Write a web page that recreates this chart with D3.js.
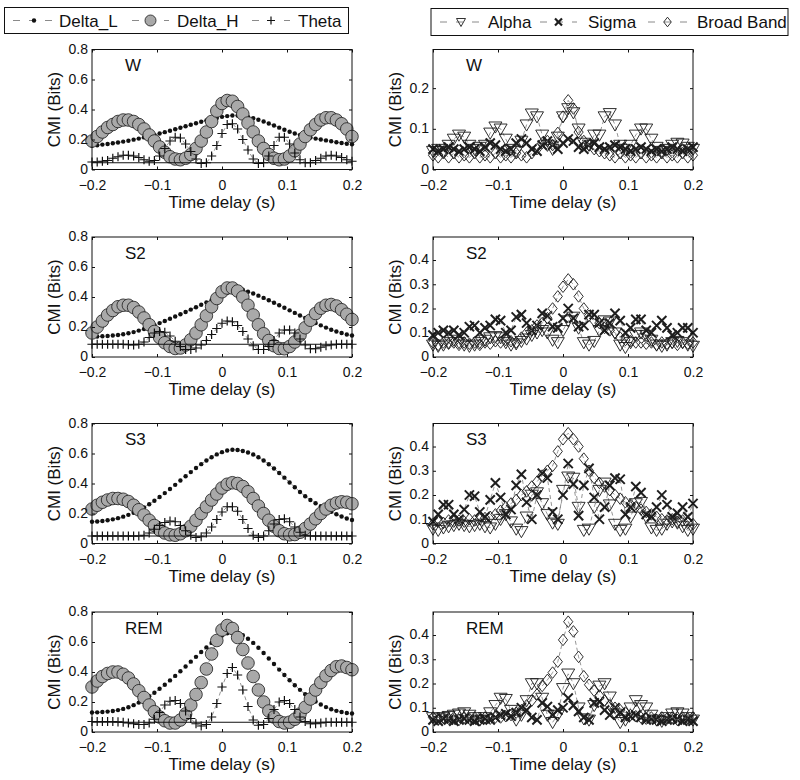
<!DOCTYPE html>
<html><head><meta charset="utf-8">
<script src="https://cdn.jsdelivr.net/npm/d3@7"></script>
<style>body{margin:0;background:#fff} text{font-family:"Liberation Sans",Arial,Helvetica,sans-serif;fill:#111}</style>
</head><body><svg id="c" width="800" height="780"></svg>
<script>
// ---------- DATA ----------
const lags = [-0.2,-0.192,-0.184,-0.176,-0.168,-0.16,-0.152,-0.144,-0.136,-0.128,-0.12,-0.112,-0.104,-0.096,-0.088,-0.08,-0.072,-0.064,-0.056,-0.048,-0.04,-0.032,-0.024,-0.016,-0.008,0,0.008,0.016,0.024,0.032,0.04,0.048,0.056,0.064,0.072,0.08,0.088,0.096,0.104,0.112,0.12,0.128,0.136,0.144,0.152,0.16,0.168,0.176,0.184,0.192,0.2];
const stages = ["W","S2","S3","REM"];
const leftNames = ["Delta_L","Delta_H","Theta"];
const rightNames = ["Alpha","Sigma","Broad Band"];
const xTicks = [-0.2,-0.1,0,0.1,0.2];
const leftYTicks = [0,0.2,0.4,0.6,0.8];
const rightYTicks = [[0,0.1,0.2],[0,0.1,0.2,0.3,0.4],[0,0.1,0.2,0.3,0.4],[0,0.1,0.2,0.3,0.4]];
const leftYMax = [0.8,0.8,0.8,0.8];
const rightYMax = [0.295,0.495,0.495,0.495];
const thresholds = [0.045,0.085,0.05,0.065];

const wDeltaL = [0.158,0.162,0.166,0.17,0.175,0.18,0.186,0.192,0.199,0.206,0.214,0.222,0.231,0.24,0.249,0.258,0.268,0.278,0.288,0.298,0.308,0.318,0.327,0.336,0.344,0.351,0.356,0.36,0.36,0.357,0.35,0.342,0.332,0.32,0.307,0.293,0.279,0.265,0.252,0.24,0.23,0.221,0.213,0.206,0.2,0.194,0.188,0.182,0.177,0.172,0.168];
const wDeltaH = [0.19,0.22,0.25,0.28,0.30,0.32,0.33,0.33,0.32,0.30,0.27,0.23,0.19,0.15,0.115,0.085,0.07,0.065,0.075,0.1,0.14,0.19,0.25,0.32,0.39,0.44,0.46,0.455,0.42,0.37,0.31,0.25,0.19,0.14,0.1,0.075,0.065,0.07,0.09,0.125,0.17,0.22,0.265,0.30,0.33,0.345,0.345,0.33,0.305,0.27,0.22];
const wTheta = [0.05,0.05,0.055,0.06,0.075,0.085,0.095,0.095,0.09,0.08,0.065,0.055,0.06,0.09,0.14,0.19,0.215,0.21,0.17,0.12,0.07,0.04,0.045,0.09,0.16,0.24,0.3,0.305,0.27,0.2,0.13,0.07,0.04,0.045,0.09,0.16,0.215,0.215,0.17,0.11,0.065,0.045,0.045,0.06,0.075,0.09,0.095,0.09,0.08,0.065,0.055];
const wAlpha = [0.045,0.05,0.045,0.06,0.075,0.085,0.08,0.06,0.05,0.055,0.06,0.09,0.105,0.1,0.075,0.05,0.045,0.07,0.11,0.137,0.13,0.085,0.06,0.05,0.08,0.13,0.15,0.14,0.1,0.065,0.06,0.085,0.085,0.13,0.138,0.11,0.06,0.05,0.06,0.085,0.1,0.1,0.075,0.055,0.045,0.05,0.06,0.065,0.063,0.055,0.05];
const wSigma = [0.05,0.045,0.05,0.055,0.05,0.045,0.05,0.055,0.05,0.045,0.055,0.065,0.06,0.05,0.045,0.05,0.065,0.075,0.065,0.05,0.045,0.06,0.07,0.06,0.05,0.065,0.075,0.07,0.055,0.05,0.06,0.065,0.055,0.05,0.055,0.06,0.055,0.05,0.045,0.05,0.055,0.05,0.045,0.05,0.045,0.05,0.055,0.05,0.045,0.05,0.055];
const wBroad = [0.035,0.03,0.04,0.03,0.04,0.03,0.035,0.03,0.04,0.03,0.035,0.03,0.04,0.03,0.035,0.03,0.04,0.035,0.03,0.04,0.05,0.065,0.07,0.06,0.09,0.13,0.17,0.15,0.092,0.07,0.06,0.05,0.045,0.04,0.035,0.03,0.04,0.03,0.035,0.03,0.04,0.03,0.035,0.03,0.04,0.03,0.035,0.03,0.04,0.03,0.035];

const s2DeltaL = [0.135,0.136,0.138,0.14,0.143,0.147,0.152,0.158,0.166,0.176,0.187,0.199,0.212,0.226,0.24,0.255,0.27,0.285,0.3,0.316,0.332,0.348,0.364,0.38,0.396,0.412,0.428,0.448,0.452,0.448,0.435,0.423,0.409,0.394,0.378,0.362,0.345,0.328,0.311,0.294,0.277,0.26,0.243,0.227,0.211,0.196,0.182,0.17,0.16,0.15,0.143];
const s2DeltaH = [0.16,0.2,0.24,0.28,0.31,0.335,0.345,0.345,0.33,0.3,0.26,0.215,0.17,0.13,0.095,0.07,0.057,0.06,0.08,0.115,0.16,0.215,0.275,0.335,0.39,0.435,0.46,0.46,0.44,0.4,0.345,0.28,0.215,0.155,0.11,0.075,0.057,0.055,0.07,0.1,0.145,0.195,0.245,0.29,0.325,0.345,0.35,0.34,0.315,0.285,0.25];
const s2Theta = [0.085,0.085,0.085,0.085,0.085,0.085,0.085,0.083,0.08,0.085,0.1,0.13,0.16,0.17,0.165,0.14,0.105,0.07,0.05,0.05,0.06,0.08,0.11,0.15,0.19,0.225,0.24,0.235,0.21,0.17,0.12,0.075,0.05,0.05,0.07,0.11,0.16,0.18,0.18,0.16,0.12,0.08,0.055,0.055,0.065,0.075,0.08,0.085,0.085,0.085,0.085];
const s2Alpha = [0.05,0.045,0.05,0.06,0.07,0.06,0.05,0.045,0.05,0.06,0.07,0.08,0.085,0.08,0.06,0.05,0.055,0.065,0.075,0.09,0.1,0.11,0.1,0.07,0.06,0.11,0.15,0.165,0.12,0.06,0.05,0.065,0.11,0.15,0.145,0.1,0.05,0.04,0.06,0.09,0.1,0.09,0.07,0.05,0.045,0.05,0.06,0.065,0.06,0.05,0.045];
const s2Sigma = [0.09,0.1,0.11,0.1,0.11,0.09,0.1,0.125,0.13,0.1,0.12,0.13,0.155,0.15,0.1,0.11,0.165,0.175,0.14,0.11,0.13,0.18,0.17,0.125,0.12,0.16,0.2,0.16,0.125,0.13,0.175,0.175,0.14,0.11,0.14,0.18,0.15,0.1,0.12,0.155,0.155,0.11,0.1,0.13,0.15,0.12,0.09,0.1,0.12,0.12,0.1];
const s2Broad = [0.06,0.05,0.06,0.055,0.06,0.05,0.06,0.055,0.06,0.05,0.06,0.055,0.065,0.06,0.07,0.065,0.06,0.08,0.1,0.11,0.13,0.14,0.16,0.2,0.25,0.29,0.32,0.3,0.25,0.2,0.17,0.15,0.14,0.12,0.11,0.1,0.08,0.07,0.065,0.06,0.06,0.055,0.06,0.05,0.06,0.055,0.06,0.05,0.06,0.055,0.06];

const s3DeltaL = [0.145,0.147,0.15,0.155,0.161,0.169,0.179,0.191,0.205,0.222,0.241,0.262,0.285,0.31,0.336,0.363,0.391,0.42,0.448,0.476,0.503,0.529,0.553,0.575,0.594,0.609,0.62,0.625,0.623,0.617,0.607,0.593,0.575,0.553,0.528,0.5,0.47,0.439,0.407,0.375,0.343,0.315,0.29,0.268,0.248,0.229,0.211,0.195,0.18,0.167,0.157];
const s3DeltaH = [0.23,0.255,0.275,0.29,0.3,0.3,0.295,0.28,0.255,0.225,0.19,0.155,0.12,0.09,0.07,0.058,0.055,0.065,0.085,0.115,0.155,0.2,0.245,0.29,0.33,0.37,0.395,0.405,0.4,0.38,0.345,0.3,0.25,0.2,0.155,0.115,0.085,0.065,0.058,0.06,0.075,0.1,0.13,0.165,0.2,0.23,0.255,0.27,0.278,0.275,0.265];
const s3Theta = [0.05,0.05,0.05,0.05,0.05,0.05,0.05,0.05,0.05,0.05,0.055,0.07,0.095,0.12,0.14,0.15,0.145,0.12,0.085,0.055,0.04,0.045,0.07,0.11,0.16,0.21,0.245,0.245,0.215,0.16,0.1,0.055,0.04,0.05,0.085,0.13,0.16,0.165,0.145,0.11,0.075,0.055,0.05,0.05,0.05,0.05,0.05,0.05,0.05,0.05,0.05];
const s3Alpha = [0.06,0.055,0.065,0.07,0.075,0.08,0.075,0.07,0.075,0.08,0.07,0.065,0.08,0.1,0.12,0.09,0.06,0.05,0.11,0.2,0.21,0.165,0.12,0.085,0.08,0.22,0.275,0.27,0.15,0.055,0.06,0.15,0.22,0.25,0.16,0.08,0.055,0.06,0.11,0.165,0.17,0.11,0.065,0.055,0.06,0.08,0.09,0.085,0.07,0.055,0.06];
const s3Sigma = [0.09,0.12,0.16,0.16,0.12,0.1,0.14,0.2,0.195,0.13,0.11,0.18,0.25,0.19,0.12,0.14,0.24,0.285,0.17,0.1,0.2,0.29,0.27,0.13,0.1,0.2,0.33,0.245,0.115,0.24,0.31,0.19,0.1,0.15,0.24,0.27,0.265,0.12,0.15,0.235,0.21,0.12,0.11,0.15,0.2,0.16,0.11,0.125,0.15,0.11,0.165];
const s3Broad = [0.08,0.09,0.085,0.095,0.09,0.095,0.09,0.1,0.095,0.1,0.105,0.11,0.12,0.135,0.15,0.165,0.18,0.2,0.215,0.235,0.255,0.28,0.3,0.32,0.38,0.43,0.455,0.43,0.4,0.35,0.3,0.27,0.25,0.235,0.22,0.2,0.185,0.17,0.16,0.15,0.14,0.13,0.12,0.11,0.1,0.095,0.1,0.09,0.095,0.085,0.08];

const remDeltaL = [0.13,0.131,0.133,0.136,0.14,0.146,0.154,0.165,0.179,0.196,0.216,0.238,0.262,0.288,0.315,0.344,0.374,0.405,0.437,0.469,0.501,0.533,0.564,0.594,0.621,0.643,0.658,0.665,0.66,0.645,0.622,0.594,0.562,0.527,0.49,0.453,0.416,0.38,0.345,0.312,0.281,0.252,0.226,0.203,0.183,0.166,0.152,0.141,0.133,0.127,0.123];
const remDeltaH = [0.3,0.34,0.37,0.39,0.4,0.4,0.385,0.36,0.32,0.275,0.23,0.18,0.135,0.1,0.075,0.06,0.06,0.08,0.12,0.18,0.25,0.33,0.42,0.52,0.61,0.68,0.71,0.69,0.63,0.55,0.46,0.37,0.28,0.2,0.14,0.1,0.07,0.06,0.065,0.085,0.12,0.165,0.22,0.28,0.33,0.375,0.41,0.435,0.44,0.43,0.415];
const remTheta = [0.07,0.07,0.07,0.07,0.07,0.068,0.065,0.06,0.055,0.05,0.05,0.06,0.085,0.13,0.18,0.205,0.21,0.19,0.14,0.09,0.055,0.04,0.05,0.1,0.19,0.3,0.39,0.43,0.38,0.28,0.17,0.08,0.045,0.05,0.09,0.15,0.2,0.21,0.19,0.15,0.1,0.07,0.055,0.055,0.06,0.065,0.065,0.065,0.065,0.065,0.065];
const remAlpha = [0.06,0.055,0.06,0.065,0.07,0.075,0.08,0.07,0.06,0.05,0.06,0.08,0.11,0.14,0.135,0.09,0.05,0.07,0.13,0.2,0.2,0.14,0.07,0.04,0.07,0.18,0.24,0.2,0.1,0.055,0.05,0.11,0.19,0.2,0.145,0.075,0.04,0.05,0.1,0.13,0.11,0.1,0.07,0.05,0.045,0.06,0.075,0.08,0.075,0.06,0.05];
const remSigma = [0.05,0.045,0.055,0.05,0.045,0.05,0.055,0.05,0.045,0.05,0.055,0.05,0.06,0.07,0.075,0.065,0.08,0.1,0.09,0.06,0.05,0.12,0.105,0.07,0.09,0.1,0.14,0.11,0.085,0.06,0.05,0.12,0.125,0.09,0.07,0.1,0.08,0.06,0.065,0.07,0.06,0.05,0.055,0.05,0.045,0.05,0.055,0.05,0.045,0.05,0.045];
const remBroad = [0.06,0.05,0.06,0.055,0.06,0.05,0.06,0.055,0.06,0.05,0.06,0.055,0.06,0.06,0.065,0.07,0.08,0.09,0.11,0.13,0.155,0.19,0.215,0.245,0.29,0.38,0.455,0.415,0.31,0.23,0.195,0.17,0.15,0.13,0.11,0.1,0.09,0.08,0.07,0.065,0.06,0.055,0.06,0.05,0.06,0.055,0.06,0.05,0.06,0.055,0.06];

const leftData = [[wDeltaL,wDeltaH,wTheta],[s2DeltaL,s2DeltaH,s2Theta],[s3DeltaL,s3DeltaH,s3Theta],[remDeltaL,remDeltaH,remTheta]];
const rightData = [[wAlpha,wSigma,wBroad],[s2Alpha,s2Sigma,s2Broad],[s3Alpha,s3Sigma,s3Broad],[remAlpha,remSigma,remBroad]];

// ---------- LAYOUT ----------
const svg = d3.select("#c");
const H = 120;
const tops = [49.5, 237, 423.5, 612];
const leftRange = [92, 352], rightRange = [433, 693];
const lineGray = "#8a8a8a";

const fmt = d => d === 0 ? "0" : (d < 0 ? "\u2212" : "") + Math.abs(d);

// marker painters
const markers = {
  dot: (g, s) => g.append("circle").attr("r", 2.2).attr("fill", "#111"),
  circ: (g, s) => g.append("circle").attr("r", s ? 5.5 : 6.3).attr("fill", "#a9a9a9").attr("stroke", "#1a1a1a").attr("stroke-width", 0.8),
  plus: (g, s) => { const r = s ? 4 : 4.6; g.append("path").attr("d", `M${-r},0H${r}M0,${-r}V${r}`).attr("stroke", "#111").attr("stroke-width", 1.2).attr("fill", "none"); },
  tri: (g, s) => { const w = s ? 4.5 : 6.5, a = s ? 3.5 : 4.8, b = s ? 4.5 : 6.3; g.append("path").attr("d", `M${-w},${-a}L${w},${-a}L0,${b}Z`).attr("stroke", "#1a1a1a").attr("stroke-width", 0.9).attr("fill", "none"); },
  ex: (g, s) => { const r = s ? 3.5 : 4.6; g.append("path").attr("d", `M${-r},${-r}L${r},${r}M${-r},${r}L${r},${-r}`).attr("stroke", "#1e1e1e").attr("stroke-width", s ? 2.2 : 2).attr("fill", "none"); },
  dia: (g, s) => { const w = s ? 3.8 : 4.6, h = s ? 4.8 : 5.8; g.append("path").attr("d", `M0,${-h}L${w},0L0,${h}L${-w},0Z`).attr("stroke", "#1a1a1a").attr("stroke-width", 0.9).attr("fill", "none"); }
};
const leftKinds = ["dot", "circ", "plus"];
const rightKinds = ["tri", "ex", "dia"];

function drawPanel(range, top, yMax, yTicks, label, seriesList, kinds, threshold) {
  const x = d3.scaleLinear().domain([-0.2, 0.2]).range(range);
  const y = d3.scaleLinear().domain([0, yMax]).range([top + H, top]);
  const g = svg.append("g");
  const line = d3.line().x((d, i) => x(lags[i])).y(d => y(d));

  seriesList.forEach((vals, k) => {
    g.append("path").attr("d", line(vals)).attr("fill", "none")
      .attr("stroke", lineGray).attr("stroke-width", 0.9).attr("stroke-dasharray", "4,3");
    const mg = g.append("g");
    vals.forEach((v, i) => {
      const m = mg.append("g").attr("transform", `translate(${x(lags[i])},${y(v)})`);
      markers[kinds[k]](m, false);
    });
  });
  if (threshold != null) {
    g.append("line").attr("x1", x(-0.2)).attr("x2", x(0.2)).attr("y1", y(threshold)).attr("y2", y(threshold))
      .attr("stroke", "#111").attr("stroke-width", 1);
  }
  // frame
  g.append("rect").attr("x", range[0]).attr("y", top).attr("width", range[1] - range[0]).attr("height", H)
    .attr("fill", "none").attr("stroke", "#111").attr("stroke-width", 1);
  const styleAxis = a => { a.select(".domain").remove(); a.selectAll("line").attr("stroke", "#111"); a.selectAll("text").attr("font-size", 14).attr("fill", "#111").attr("font-family", "Liberation Sans, Arial, sans-serif"); };
  g.append("g").attr("transform", `translate(0,${top + H})`)
    .call(d3.axisBottom(x).tickValues(xTicks).tickSizeInner(-3).tickSizeOuter(0).tickPadding(10.5).tickFormat(fmt)).call(styleAxis);
  g.append("g").attr("transform", `translate(0,${top})`)
    .call(d3.axisTop(x).tickValues(xTicks).tickSizeInner(-3).tickSizeOuter(0).tickFormat("")).call(styleAxis);
  g.append("g").attr("transform", `translate(${range[0]},0)`)
    .call(d3.axisLeft(y).tickValues(yTicks).tickSizeInner(-3).tickSizeOuter(0).tickPadding(4).tickFormat(fmt)).call(styleAxis)
    .selectAll("text").attr("dy", "0.28em");
  g.append("g").attr("transform", `translate(${range[1]},0)`)
    .call(d3.axisRight(y).tickValues(yTicks).tickSizeInner(-3).tickSizeOuter(0).tickFormat("")).call(styleAxis);
  // labels
  g.append("text").attr("x", range[0] + 33).attr("y", top + 21.5).attr("font-size", 17).text(label);
  g.append("text").attr("x", (range[0] + range[1]) / 2).attr("y", top + H + 38).attr("text-anchor", "middle").attr("font-size", 17).text("Time delay (s)");
  const lx = range[0] - 32.5;
  g.append("text").attr("transform", `translate(${lx},${top + H / 2}) rotate(-90)`).attr("text-anchor", "middle").attr("font-size", 17).text("CMI (Bits)");
}

stages.forEach((st, p) => {
  drawPanel(leftRange, tops[p], leftYMax[p], leftYTicks, st, leftData[p], leftKinds, thresholds[p]);
  drawPanel(rightRange, tops[p], rightYMax[p], rightYTicks[p], st, rightData[p], rightKinds, null);
});

// ---------- LEGENDS ----------
function legend(bx, by, bw, bh, names, kinds, items) {
  const g = svg.append("g");
  g.append("rect").attr("x", bx).attr("y", by).attr("width", bw).attr("height", bh).attr("fill", "#fff").attr("stroke", "#111").attr("stroke-width", 1);
  const cy = by + bh / 2;
  names.forEach((n, k) => {
    const it = items[k];
    g.append("line").attr("x1", it[0]).attr("x2", it[1]).attr("y1", cy).attr("y2", cy)
      .attr("stroke", lineGray).attr("stroke-width", 1).attr("stroke-dasharray", "7,9");
    const m = g.append("g").attr("transform", `translate(${(it[0] + it[1]) / 2},${cy})`);
    markers[kinds[k]](m, true);
    g.append("text").attr("x", it[2]).attr("y", cy + 6).attr("font-size", 17).text(n);
  });
}
legend(4.5, 7.5, 344, 26, leftNames, leftKinds, [[13, 55, 59], [132, 169, 177], [252, 290, 298]]);
legend(431, 8.5, 357, 27, rightNames, rightKinds, [[440, 482, 488], [540, 577, 588], [648, 687, 697]]);
</script></body></html>
